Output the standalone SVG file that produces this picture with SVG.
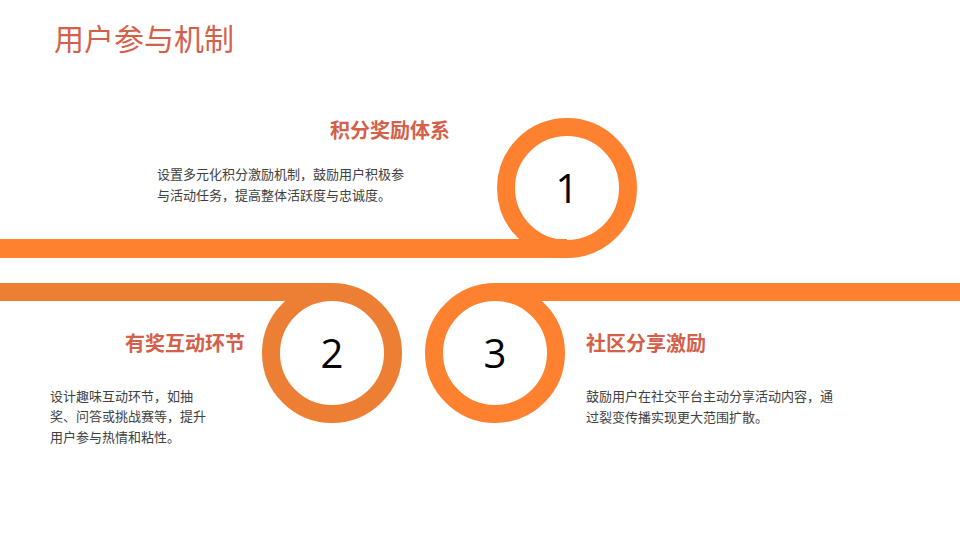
<svg xmlns="http://www.w3.org/2000/svg" width="960" height="540" viewBox="0 0 960 540">
<style>
.ring{fill:none;stroke-width:18}
.h{font-family:"Noto Sans CJK SC",sans-serif;font-weight:bold;font-size:20px;fill:#D4604A}
.b{font-family:"Noto Sans CJK SC",sans-serif;font-size:13px;fill:#404040}
.n{font-family:"Open Sans","DejaVu Sans",sans-serif;font-size:40px;fill:#000;text-anchor:middle}
</style>
<rect width="960" height="540" fill="#fff"/>
<text x="54" y="50" font-family="Noto Sans CJK SC,sans-serif" font-size="30" fill="#D4604A">用户参与机制</text>
<g id="connectors">
<rect x="0" y="239" width="567" height="19" fill="#FE8130"/>
<rect x="0" y="283" width="332" height="18" fill="#EC7F34"/>
<rect x="495" y="283" width="465" height="18" fill="#FE8130"/>
</g>
<g id="node1">
<circle class="ring" cx="567" cy="188" r="61" stroke="#FE8130"/>
<text class="n" x="567" y="203">1</text>
<text class="h" x="390" y="138" text-anchor="middle">积分奖励体系</text>
<text class="b" x="157" y="179">设置多元化积分激励机制，鼓励用户积极参</text>
<text class="b" x="157" y="200">与活动任务，提高整体活跃度与忠诚度。</text>
</g>
<g id="node2">
<circle class="ring" cx="332" cy="353" r="61" stroke="#EC7F34"/>
<text class="n" x="332" y="368">2</text>
<text class="h" x="245" y="351" text-anchor="end">有奖互动环节</text>
<text class="b" x="50" y="401">设计趣味互动环节，如抽</text>
<text class="b" x="50" y="421">奖、问答或挑战赛等，提升</text>
<text class="b" x="50" y="442">用户参与热情和粘性。</text>
</g>
<g id="node3">
<circle class="ring" cx="495" cy="353" r="61" stroke="#FE8130"/>
<text class="n" x="495" y="368">3</text>
<text class="h" x="586" y="351">社区分享激励</text>
<text class="b" x="586" y="401">鼓励用户在社交平台主动分享活动内容，通</text>
<text class="b" x="586" y="422">过裂变传播实现更大范围扩散。</text>
</g>
</svg>
